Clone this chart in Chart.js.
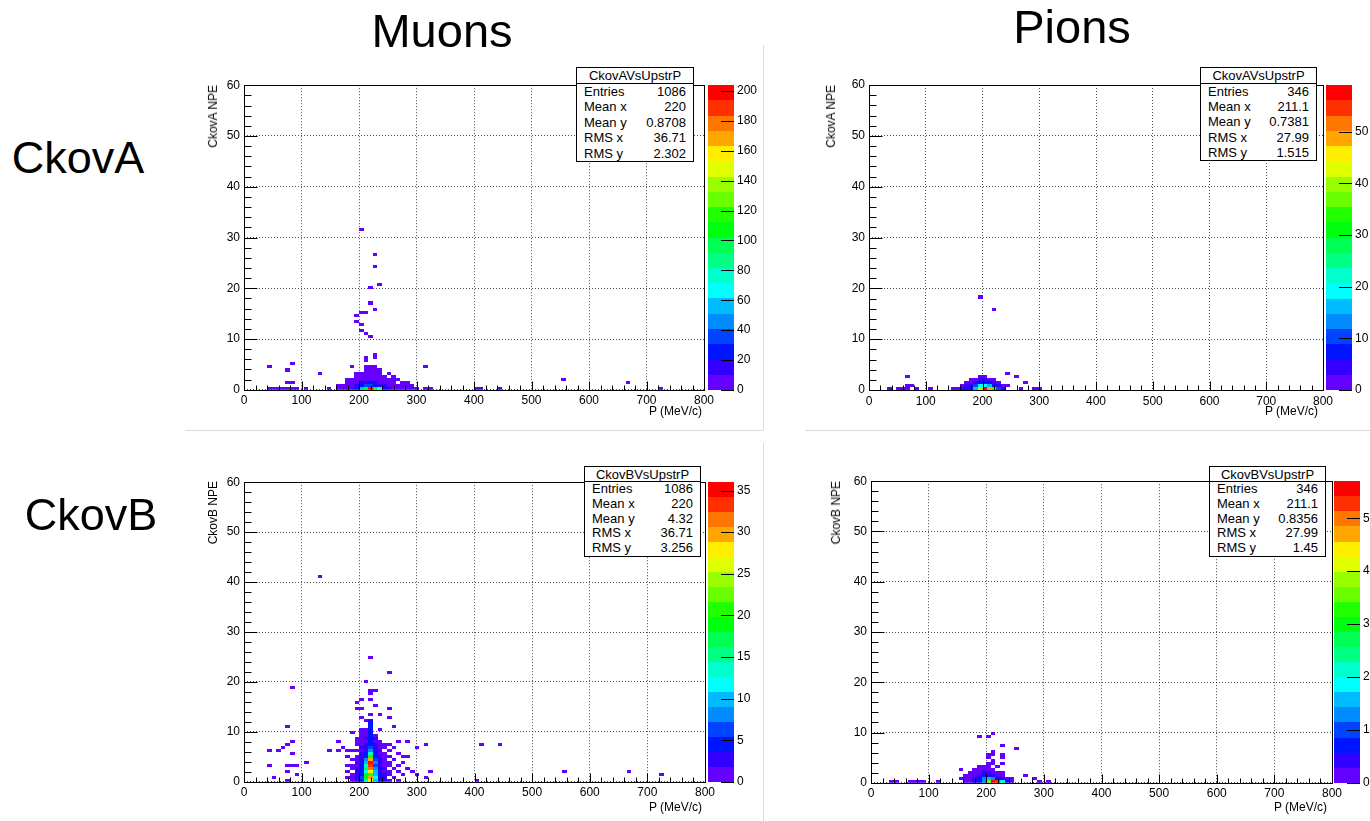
<!DOCTYPE html>
<html>
<head>
<meta charset="utf-8">
<title>Cherenkov NPE vs upstream momentum</title>
<script src="https://cdn.jsdelivr.net/npm/chart.js@4.4.1/dist/chart.umd.min.js"></script>
<style>
  html, body { margin: 0; padding: 0; }
  body {
    width: 1370px; height: 821px; position: relative; overflow: hidden;
    background: #fff; color: #000;
    font-family: "Liberation Sans", Arial, sans-serif;
  }
  canvas { position: absolute; }
  .heading { position: absolute; line-height: 1; white-space: nowrap; transform: translateX(-50%); }
  .ytitle {
    position: absolute; font-size: 12px; line-height: 14px; white-space: nowrap;
    writing-mode: vertical-rl; transform: rotate(180deg);
  }
  .xtitle { position: absolute; font-size: 12px; line-height: 14px; white-space: nowrap; }
  .stats {
    position: absolute; box-sizing: border-box; border: 1px solid #000; background: #fff;
    font-size: 13px; line-height: 15px;
  }
  .stats .ttl { box-sizing: border-box; border-bottom: 1px solid #000; text-align: center; }
  .stats .row { display: flex; justify-content: space-between; padding: 0 7px 0 7px; }
  .padline { position: absolute; background: #dadada; }
</style>
</head>
<body>
<script>
// 2D histograms: 100 bins in P (0-800 MeV/c) x 100 bins in NPE (0-60)
const P_MIN = 0, P_MAX = 800, P_BINS = 100;
const NPE_MIN = 0, NPE_MAX = 60, NPE_BINS = 100;

const pTicks = [0, 100, 200, 300, 400, 500, 600, 700, 800];
const npeTicks = [0, 10, 20, 30, 40, 50, 60];

// bin contents as runs along P: [NPE bin, first P bin, [counts...]]
const muonsA = [
  [0, 5, [2,1,2,1,2,1,1,0,1,0,0,0,0,1,0,3,4,6,8,30,55,110,204,105,65,30,12,8,5,4,3,2,2,0,1,1]],
  [0, 50, [1,1,0,0,0,1]], [0, 90, [1]],
  [1, 20, [2,3,4,6,15,25,35,40,30,20,12,6,4,3,2,1,1]],
  [2, 9, [1,1]], [2, 22, [2,3,6,12,20,22,15,8,5,3,2,0,1,1]], [2, 83, [1]],
  [3, 22, [1,2,3,5,8,10,6,4,2,1,1,1]], [3, 69, [1]],
  [4, 24, [1,2,3,4,3,2,1,0,1]],
  [5, 16, [1]], [5, 24, [1,1,2,2,1,1,0,1]],
  [6, 9, [1]], [6, 26, [1,1,1,1]],
  [7, 5, [1]], [7, 23, [1,0,0,1,1,1]], [7, 39, [1]],
  [8, 10, [1]],
  [9, 26, [1]], [10, 26, [1,0,1]], [11, 28, [1]],
  [17, 27, [1]], [18, 26, [1]], [19, 25, [1]], [21, 25, [1]], [22, 24, [1]],
  [24, 24, [1]], [25, 25, [1,1]], [26, 28, [1]], [28, 27, [1]], [33, 27, [1]],
  [34, 29, [1]], [40, 28, [1]], [44, 28, [1]], [52, 25, [1]]
];

const pionsA = [
  [0, 4, [1,0,1,1,2,0,1,0,0,1,0,0,0,0,1,2,3,4,8,15,40,59,50,35,10,3,0,0,0,1,0,0,1,1]],
  [1, 8, [1,1]], [1, 20, [2,3,5,10,18,20,15,8,4,2,1]],
  [2, 21, [1,2,4,8,8,6,3,1]], [2, 34, [1]],
  [3, 22, [1,2,3,4,2,1]],
  [4, 8, [1]], [4, 24, [1,1]], [4, 32, [1]],
  [5, 30, [1]],
  [26, 27, [1]], [30, 24, [1]]
];

const muonsB = [
  [0, 9, [1]], [0, 22, [0,1,2,5,14,26,10,4,2,1,0,1]], [0, 50, [1]],
  [1, 6, [1]], [1, 22, [1,1,3,6,18,30,12,5,2,0,1]], [1, 39, [1]],
  [2, 11, [1]], [2, 22, [0,1,2,5,18,20,9,4,3,1,0,0,1,0,0,1]], [2, 90, [1]],
  [3, 9, [1]], [3, 22, [1,0,2,4,12,28,10,3,1,1,0,1,0,0,1]], [3, 40, [1]], [3, 69, [1]], [3, 83, [1]],
  [4, 22, [0,1,2,5,17,31,8,4,2,0,1,0,0,1]],
  [5, 5, [1]], [5, 9, [1,1,1]], [5, 22, [1,1,1,4,14,33,7,3,1,1,0,1]],
  [6, 13, [1]], [6, 22, [0,0,2,3,10,36,8,2,1,1,0,0,1]],
  [7, 22, [0,1,1,3,8,30,6,3,1,0,1]],
  [8, 22, [1,0,1,2,5,20,5,2,1,1,0,0,1,1]],
  [9, 10, [1]], [9, 22, [0,0,0,2,4,13,4,1,1,0,0,1]],
  [10, 5, [1,0,1]], [10, 18, [1,0,1]], [10, 22, [1,1,1,1,3,8,3,2,0,1]],
  [11, 8, [1]], [11, 21, [1]], [11, 25, [2,2,6,2,1,1,0,1]], [11, 37, [1]],
  [12, 9, [1]], [12, 24, [1,1,2,5,2,1,1,1]], [12, 39, [1]], [12, 51, [1,0,0,0,1]],
  [13, 10, [1]], [13, 20, [1]], [13, 24, [1,1,1,4,1,1,0,0,0,1,0,1]],
  [14, 24, [1,1,2,5,2]], [15, 25, [1,1,4,1]],
  [16, 23, [1,0,1,1,5]], [17, 25, [1,1,5,0,1]], [18, 9, [1]], [18, 27, [4]], [18, 32, [1]],
  [19, 27, [4]], [20, 26, [1,3]], [21, 25, [1]], [21, 31, [1]],
  [22, 27, [1,0,1]], [24, 24, [1,1]], [24, 31, [1]], [25, 28, [1]],
  [26, 24, [1]], [27, 25, [1,0,1]], [29, 27, [1]], [30, 27, [1,1]],
  [31, 10, [1]], [33, 26, [1]], [36, 31, [1]], [41, 27, [1]], [68, 16, [1]]
];

const pionsB = [
  [0, 4, [1,1,0,0,1,1,1,1,0,0,1]],
  [0, 20, [1,2,3,6,12,35,57,52,20,6,2,0,0,0,0,0,1,0,1]],
  [1, 19, [1,2,2,4,8,12,15,14,8,4,2,1,0,0,0,0,1]],
  [2, 20, [1,2,2,4,6,5,3,2,1,0,0,0,0,1]],
  [3, 21, [1,1,2,3,3,2,1,1]],
  [4, 19, [1,0,0,1,1,2,2,1]],
  [5, 23, [1,1,1,0,1]], [6, 25, [1,1,0,1]], [7, 26, [1]],
  [8, 25, [1,0,0,1]], [9, 25, [1,1,0,1]], [10, 26, [1]],
  [11, 31, [1]], [12, 28, [1]], [15, 23, [1,0,1]], [16, 26, [1]]
];

// colour axis ranges and labelled values
const zMaxMuonsA = 204, zTicksMuonsA = [0, 20, 40, 60, 80, 100, 120, 140, 160, 180, 200];
const zMaxPionsA = 59,  zTicksPionsA = [0, 10, 20, 30, 40, 50];
const zMaxMuonsB = 36,  zTicksMuonsB = [0, 5, 10, 15, 20, 25, 30, 35];
const zMaxPionsB = 57,  zTicksPionsB = [0, 10, 20, 30, 40, 50];

// statistics boxes
const statNames = ['Entries', 'Mean x', 'Mean y', 'RMS x', 'RMS y'];
const statsMuonsA = ['1086', '220', '0.8708', '36.71', '2.302'];
const statsPionsA = ['346', '211.1', '0.7381', '27.99', '1.515'];
const statsMuonsB = ['1086', '220', '4.32', '36.71', '3.256'];
const statsPionsB = ['346', '211.1', '0.8356', '27.99', '1.45'];

const N_LEVELS = 20;

// ROOT "pretty" palette: 50 hues from violet to red, sampled for 20 contour levels
function levelColor(k) {
  const p = Math.floor((k + 0.99) * 50 / N_LEVELS);
  const hue = 280 - (p + 1) * 5.6;
  return `hsl(${hue}, 100%, 50%)`;
}

function countColor(n, zMax) {
  const k = Math.min(N_LEVELS - 1, Math.floor(n * N_LEVELS / zMax));
  return levelColor(k);
}

function toPoints(runs) {
  const dp = (P_MAX - P_MIN) / P_BINS;
  const dn = (NPE_MAX - NPE_MIN) / NPE_BINS;
  const pts = [];
  runs.forEach(([iy, ix0, counts]) => {
    counts.forEach((n, k) => {
      if (!n) return;
      pts.push({ x: P_MIN + (ix0 + k + 0.5) * dp, y: NPE_MIN + (iy + 0.5) * dn, n });
    });
  });
  return pts;
}

// one filled rectangle per bin, placed through the chart's own scales
const heatmapPlugin = {
  id: 'heatmap',
  beforeDatasetsDraw(chart, args, opts) {
    const { ctx, chartArea: a, scales: { x, y } } = chart;
    const dp = (P_MAX - P_MIN) / P_BINS / 2;
    const dn = (NPE_MAX - NPE_MIN) / NPE_BINS / 2;
    ctx.save();
    ctx.beginPath();
    ctx.rect(a.left, a.top, a.width, a.height);
    ctx.clip();
    chart.data.datasets[0].data.forEach((pt) => {
      const x0 = Math.round(x.getPixelForValue(pt.x - dp));
      const x1 = Math.round(x.getPixelForValue(pt.x + dp));
      const y0 = Math.round(y.getPixelForValue(pt.y + dn));
      const y1 = Math.round(y.getPixelForValue(pt.y - dn));
      ctx.fillStyle = countColor(pt.n, opts.zMax);
      ctx.fillRect(x0, y0, x1 - x0, y1 - y0);
    });
    ctx.restore();
  }
};

// frame, inward ticks and the colour palette next to the frame
const framePlugin = {
  id: 'rootFrame',
  afterDraw(chart, args, opts) {
    const { ctx, chartArea: a, scales: { x, y, z } } = chart;
    const L = Math.round(a.left) + 0.5, R = Math.round(a.right) + 0.5;
    const T = Math.round(a.top) + 0.5, B = Math.round(a.bottom) + 0.5;
    ctx.save();
    ctx.strokeStyle = '#000';
    ctx.lineWidth = 1;

    ctx.beginPath();
    for (let i = 0; i < pTicks.length; i++) {
      const px = Math.round(x.getPixelForValue(pTicks[i])) + 0.5;
      ctx.moveTo(px, B); ctx.lineTo(px, B - 9);
      if (i + 1 < pTicks.length) {
        for (let m = 1; m < 5; m++) {
          const v = pTicks[i] + (pTicks[i + 1] - pTicks[i]) * m / 5;
          const mx = Math.round(x.getPixelForValue(v)) + 0.5;
          ctx.moveTo(mx, B); ctx.lineTo(mx, B - 5);
        }
      }
    }
    for (let i = 0; i < npeTicks.length; i++) {
      const py = Math.round(y.getPixelForValue(npeTicks[i])) + 0.5;
      ctx.moveTo(L, py); ctx.lineTo(L + 13, py);
      if (i + 1 < npeTicks.length) {
        for (let m = 1; m < 5; m++) {
          const v = npeTicks[i] + (npeTicks[i + 1] - npeTicks[i]) * m / 5;
          const my = Math.round(y.getPixelForValue(v)) + 0.5;
          ctx.moveTo(L, my); ctx.lineTo(L + 7, my);
        }
      }
    }
    ctx.stroke();
    ctx.strokeRect(L, T, R - L, B - T);

    // palette
    const pl = Math.round(a.right) + opts.gap;
    const pw = opts.width;
    for (let k = 0; k < N_LEVELS; k++) {
      const yb = Math.round(z.getPixelForValue(k * opts.zMax / N_LEVELS));
      const yt = Math.round(z.getPixelForValue((k + 1) * opts.zMax / N_LEVELS));
      ctx.fillStyle = levelColor(k);
      ctx.fillRect(pl, yt, pw, yb - yt);
    }
    ctx.beginPath();
    z.ticks.forEach((t) => {
      const py = Math.round(z.getPixelForValue(t.value)) + 0.5;
      ctx.moveTo(pl + pw - 13, py); ctx.lineTo(pl + pw, py);
    });
    ctx.stroke();
    ctx.restore();
  }
};

Chart.defaults.font.family = '"Liberation Sans", Arial, sans-serif';
Chart.defaults.font.size = 12;
Chart.defaults.color = '#000';

const panels = [
  { runs: muonsA, zMax: zMaxMuonsA, zTicks: zTicksMuonsA, yTitle: 'CkovA NPE', name: 'CkovAVsUpstrP', stats: statsMuonsA,
    box: { left: 185, top: 45, width: 578, height: 385 }, frame: { left: 59, right: 519, top: 40, bottom: 345 }, palGap: 4,
    yTitleX: 213, xTitleEnd: 702, xTitleY: 404, statBox: { left: 576, top: 67, width: 118, height: 95, title: 16 } },
  { runs: pionsA, zMax: zMaxPionsA, zTicks: zTicksPionsA, yTitle: 'CkovA NPE', name: 'CkovAVsUpstrP', stats: statsPionsA,
    box: { left: 805, top: 45, width: 565, height: 385 }, frame: { left: 64, right: 518, top: 40, bottom: 345 }, palGap: 3,
    yTitleX: 831, xTitleEnd: 1318, xTitleY: 404, statBox: { left: 1200, top: 67, width: 117, height: 94, title: 16 } },
  { runs: muonsB, zMax: zMaxMuonsB, zTicks: zTicksMuonsB, yTitle: 'CkovB NPE', name: 'CkovBVsUpstrP', stats: statsMuonsB,
    box: { left: 185, top: 443, width: 578, height: 378 }, frame: { left: 59, right: 520, top: 38, bottom: 344 }, palGap: 3,
    yTitleX: 213, xTitleEnd: 702, xTitleY: 800, statBox: { left: 584, top: 466, width: 117, height: 91, title: 15 } },
  { runs: pionsB, zMax: zMaxPionsB, zTicks: zTicksPionsB, yTitle: 'CkovB NPE', name: 'CkovBVsUpstrP', stats: statsPionsB,
    box: { left: 805, top: 443, width: 565, height: 378 }, frame: { left: 66, right: 527, top: 38, bottom: 344 }, palGap: 2,
    yTitleX: 836, xTitleEnd: 1327, xTitleY: 800, statBox: { left: 1209, top: 466, width: 117, height: 91, title: 15 } }
];

function addDiv(cls, text, style) {
  const el = document.createElement('div');
  el.className = cls;
  if (text) el.textContent = text;
  Object.assign(el.style, style);
  document.body.appendChild(el);
  return el;
}

function makePanel(pn) {
  const cv = document.createElement('canvas');
  cv.width = pn.box.width;
  cv.height = pn.box.height;
  cv.style.left = pn.box.left + 'px';
  cv.style.top = pn.box.top + 'px';
  document.body.appendChild(cv);
  const f = pn.frame;

  new Chart(cv, {
    type: 'scatter',
    data: { datasets: [{ data: toPoints(pn.runs), pointRadius: 0, pointHoverRadius: 0 }] },
    options: {
      responsive: false,
      animation: false,
      devicePixelRatio: 1,
      events: [],
      layout: { padding: { top: f.top, left: 0, right: 0, bottom: 0 } },
      plugins: {
        legend: { display: false },
        tooltip: { enabled: false },
        heatmap: { zMax: pn.zMax },
        rootFrame: { zMax: pn.zMax, gap: pn.palGap, width: 26 }
      },
      scales: {
        x: {
          type: 'linear', position: 'bottom', min: P_MIN, max: P_MAX,
          afterBuildTicks: (s) => { s.ticks = pTicks.map((v) => ({ value: v })); },
          afterFit: (s) => { s.height = pn.box.height - f.bottom; },
          grid: { color: 'rgba(0,0,0,0.7)', lineWidth: 1, drawTicks: false },
          border: { display: false, dash: [1, 2] },
          ticks: { padding: 4, maxRotation: 0, autoSkip: false }
        },
        y: {
          type: 'linear', position: 'left', min: NPE_MIN, max: NPE_MAX,
          afterBuildTicks: (s) => { s.ticks = npeTicks.map((v) => ({ value: v })); },
          afterFit: (s) => { s.width = f.left; },
          grid: { color: 'rgba(0,0,0,0.7)', lineWidth: 1, drawTicks: false },
          border: { display: false, dash: [1, 2] },
          ticks: { padding: 4, autoSkip: false }
        },
        z: {
          type: 'linear', position: 'right', min: 0, max: pn.zMax,
          afterBuildTicks: (s) => { s.ticks = pn.zTicks.map((v) => ({ value: v })); },
          afterFit: (s) => { s.width = pn.box.width - f.right; },
          grid: { display: false, drawTicks: false },
          border: { display: false },
          ticks: { padding: pn.palGap + 29, autoSkip: false }
        }
      }
    },
    plugins: [heatmapPlugin, framePlugin]
  });

  const frameTop = pn.box.top + f.top;

  addDiv('ytitle', pn.yTitle, { left: (pn.yTitleX - 7) + 'px', top: frameTop + 'px' });
  addDiv('xtitle', 'P (MeV/c)', { right: (1370 - pn.xTitleEnd) + 'px', top: pn.xTitleY + 'px' });

  const sb = pn.statBox;
  const box = addDiv('stats', '', {
    left: sb.left + 'px', top: sb.top + 'px', width: sb.width + 'px', height: sb.height + 'px'
  });
  const ttl = document.createElement('div');
  ttl.className = 'ttl';
  ttl.textContent = pn.name;
  ttl.style.height = sb.title + 'px';
  box.appendChild(ttl);
  const rowH = (sb.height - 2 - sb.title) / statNames.length;
  statNames.forEach((label, i) => {
    const row = document.createElement('div');
    row.className = 'row';
    row.style.height = rowH + 'px';
    row.style.lineHeight = rowH + 'px';
    const a = document.createElement('span'); a.textContent = label;
    const b = document.createElement('span'); b.textContent = pn.stats[i];
    row.appendChild(a); row.appendChild(b);
    box.appendChild(row);
  });
}

// light pad borders
addDiv('padline', '', { left: '763px', top: '45px', width: '1px', height: '385px' });
addDiv('padline', '', { left: '185px', top: '430px', width: '578px', height: '1px' });
addDiv('padline', '', { left: '805px', top: '430px', width: '565px', height: '1px' });
addDiv('padline', '', { left: '763px', top: '443px', width: '1px', height: '378px' });

panels.forEach(makePanel);

// column and row headings
addDiv('heading', 'Muons', { left: '442px', top: '7px', fontSize: '47px' });
addDiv('heading', 'Pions', { left: '1072px', top: '3px', fontSize: '47px' });
addDiv('heading', 'CkovA', { left: '78px', top: '135px', fontSize: '45px' });
addDiv('heading', 'CkovB', { left: '91px', top: '492px', fontSize: '45px' });
</script>
</body>
</html>
